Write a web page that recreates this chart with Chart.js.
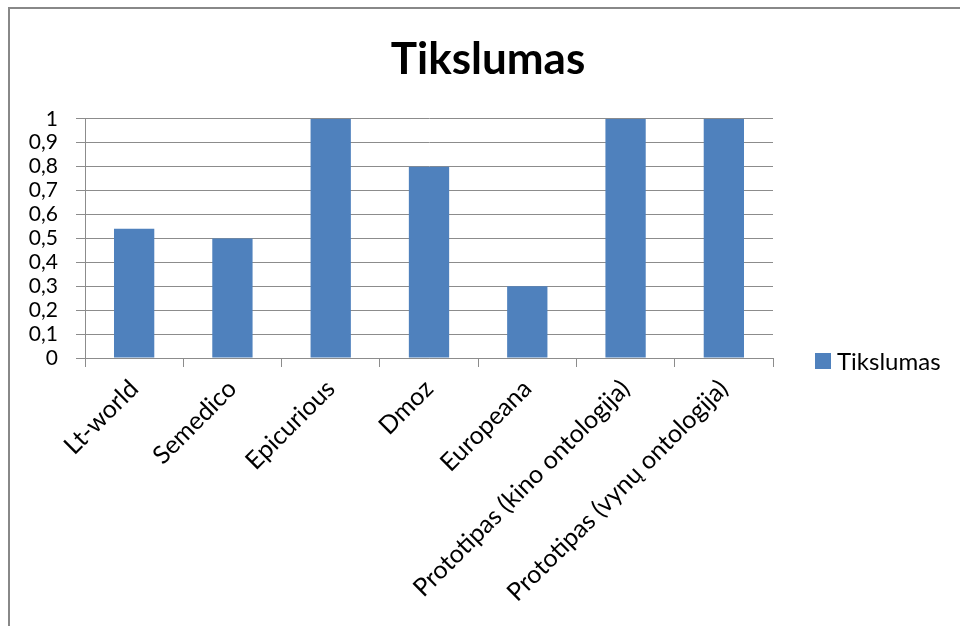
<!DOCTYPE html>
<html>
<head>
<meta charset="utf-8">
<script src="https://cdn.jsdelivr.net/npm/chart.js@4"></script>
<style>
  html, body { margin: 0; padding: 0; background: #fff; overflow: hidden; }
  #frame { position: absolute; left: 8px; top: 7px; width: 980px; height: 640px; border: 2px solid #888; }
  #wrap { position: absolute; left: 0; top: 0; width: 960px; height: 626px; }
</style>
</head>
<body>
<div id="frame"></div>
<div id="wrap"><canvas id="chart"></canvas></div>
<script>
// chart data
const categories = ['Lt-world', 'Semedico', 'Epicurious', 'Dmoz', 'Europeana',
  'Prototipas (kino ontologija)', 'Prototipas (vynų ontologija)'];
const seriesName = 'Tikslumas';
const values = [0.54, 0.5, 1, 0.8, 0.3, 1, 1];
const yTicks = [0, 0.1, 0.2, 0.3, 0.4, 0.5, 0.6, 0.7, 0.8, 0.9, 1];

const FONT = 'Lato, "Liberation Sans", sans-serif';

// simple legend at the right of the plot, like the original
const sideLegend = {
  id: 'sideLegend',
  afterDraw(chart) {
    const ds = chart.data.datasets[0];
    const ctx = chart.ctx;
    const x = chart.chartArea.right + 42;
    const y = chart.chartArea.bottom + 3;
    ctx.save();
    ctx.fillStyle = ds.backgroundColor;
    ctx.fillRect(x, y - 8, 16, 16);
    ctx.fillStyle = '#000';
    ctx.font = '24px ' + FONT;
    ctx.textBaseline = 'middle';
    ctx.fillText(ds.label, x + 22, y + 1);
    ctx.restore();
  }
};

document.addEventListener('DOMContentLoaded', function() {
  const ctx = document.getElementById('chart');
  new Chart(ctx, {
    type: 'bar',
    data: {
      labels: categories,
      datasets: [{
        label: seriesName,
        data: values,
        backgroundColor: '#4F81BD',
        categoryPercentage: 1,
        barPercentage: 0.41
      }]
    },
    options: {
      responsive: true,
      maintainAspectRatio: false,
      animation: false,
      layout: { padding: { left: 16, top: 0, right: 0, bottom: 0 } },
      plugins: {
        legend: { display: false },
        tooltip: { enabled: false },
        title: {
          display: true,
          text: 'Tikslumas',
          color: '#000',
          font: { family: FONT, size: 44, weight: 'bold', lineHeight: 1.2 },
          padding: { top: 33, bottom: 33 }
        }
      },
      scales: {
        x: {
          grid: { drawOnChartArea: false, offset: true, tickLength: 9, color: '#8c8c8c' },
          border: { color: '#8c8c8c' },
          ticks: {
            color: '#000',
            font: { family: FONT, size: 25 },
            minRotation: 45, maxRotation: 45,
            autoSkip: false,
            padding: 7
          },
          afterFit(scale) { scale.height = 268; }
        },
        y: {
          min: 0, max: 1,
          afterBuildTicks(scale) { scale.ticks = yTicks.map(v => ({ value: v })); },
          grid: { color: '#8c8c8c', tickLength: 9 },
          border: { color: '#8c8c8c' },
          ticks: {
            color: '#000',
            font: { family: FONT, size: 21 },
            padding: 18,
            autoSkip: false,
            callback: v => String(Math.round(v * 10) / 10).replace('.', ',')
          },
          afterFit(scale) { scale.width = 69; }
        },
        side: {
          type: 'linear',
          position: 'right',
          grid: { display: false },
          border: { display: false },
          ticks: { display: false },
          afterFit(scale) { scale.width = 187; }
        }
      }
    },
    plugins: [sideLegend]
  });
});
</script>
</body>
</html>
